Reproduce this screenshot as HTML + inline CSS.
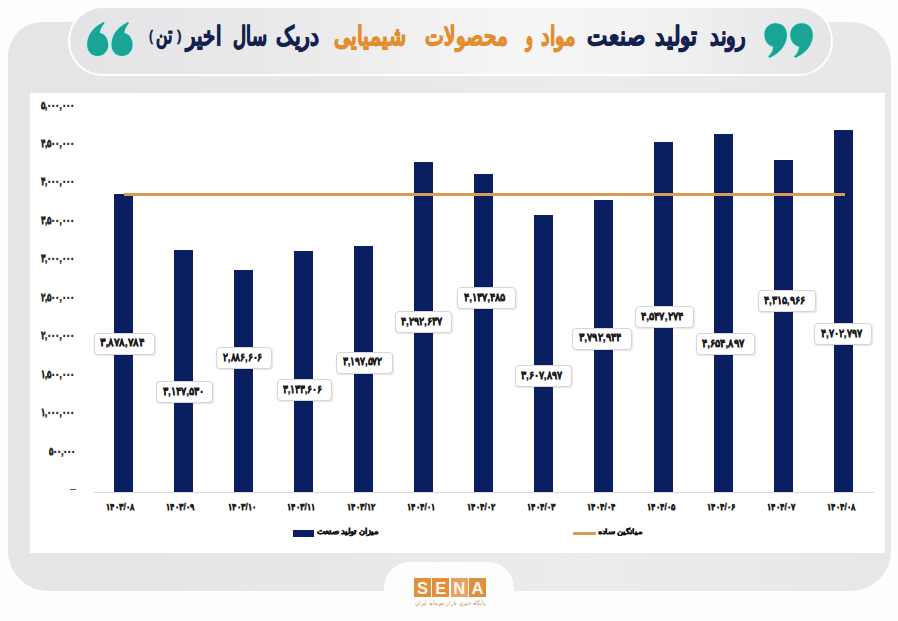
<!DOCTYPE html>
<html lang="fa">
<head>
<meta charset="utf-8">
<style>
*{margin:0;padding:0;box-sizing:border-box}
html,body{width:898px;height:621px;overflow:hidden;background:#fefefe;font-family:"Liberation Sans",sans-serif}
.abs{position:absolute}
.t{position:absolute;white-space:nowrap;transform-origin:0 0;line-height:normal}
#frame{left:8px;top:22px;width:883px;height:568.5px;background:linear-gradient(90deg,#e5e5e7 0%,#e7e7e9 35%,#ececed 65%,#e7e7e9 100%);border-radius:34px 40px 40px 40px}
#chart{left:30px;top:92.5px;width:855px;height:460.5px;background:#fff}
#pill{left:68px;top:6px;width:765px;height:69.5px;border-radius:34.75px;border:2px solid #fff;
 background:linear-gradient(90deg,#e4e4e6 0%,#eaeaeb 30%,#f6f6f7 60%,#f1f1f2 78%,#e5e5e7 100%)}
#notch{left:384px;top:562px;width:130px;height:70px;background:#fefefe;border-radius:26px 26px 0 0}
.bar{background:#0a1e62}
.sena{position:absolute;top:577.8px;width:17.2px;height:19.7px;color:#fff8ee;font-weight:bold;font-size:16.5px;line-height:20.5px;text-align:center}
.box{position:absolute;height:22px;background:#fff;border:1px solid #d6d6d6;border-radius:4px;box-shadow:0.5px 1px 1.5px rgba(0,0,0,.10)}
</style>
</head>
<body>
<div id="frame" class="abs"></div>
<div id="chart" class="abs"></div>
<div id="pill" class="abs"></div>
<div id="notch" class="abs"></div>
<svg class="abs" style="left:0;top:0" width="898" height="80">
 <g fill="#19a495" stroke="#bdf1ec" stroke-width="1.6" paint-order="stroke">
  <path transform="translate(87,22.2)" d="M15.8 0.2C8.5 3.5 1.2 10.5 0.2 20.5C-0.6 28.5 4 33.7 10.6 33.7C16.5 33.7 21.2 29 21.2 22.7C21.2 16.2 17.5 11.5 12.8 10.8C13.2 7.2 14.8 4 17.3 1.3C17.8 0.5 16.7 -0.3 15.8 0.2Z"/>
  <path transform="translate(111.4,22.3)" d="M15.8 0.2C8.5 3.5 1.2 10.5 0.2 20.5C-0.6 28.5 4 33.7 10.6 33.7C16.5 33.7 21.2 29 21.2 22.7C21.2 16.2 17.5 11.5 12.8 10.8C13.2 7.2 14.8 4 17.3 1.3C17.8 0.5 16.7 -0.3 15.8 0.2Z"/>
  <path transform="translate(787.06,57.7) rotate(180) scale(1.07,1.02)" d="M15.8 0.2C8.5 3.5 1.2 10.5 0.2 20.5C-0.6 28.5 4 33.7 10.6 33.7C16.5 33.7 21.2 29 21.2 22.7C21.2 16.2 17.5 11.5 12.8 10.8C13.2 7.2 14.8 4 17.3 1.3C17.8 0.5 16.7 -0.3 15.8 0.2Z"/>
  <path transform="translate(812.96,57.7) rotate(180) scale(1.07,1.02)" d="M15.8 0.2C8.5 3.5 1.2 10.5 0.2 20.5C-0.6 28.5 4 33.7 10.6 33.7C16.5 33.7 21.2 29 21.2 22.7C21.2 16.2 17.5 11.5 12.8 10.8C13.2 7.2 14.8 4 17.3 1.3C17.8 0.5 16.7 -0.3 15.8 0.2Z"/>
 </g>
</svg>
<div class="t" style="left:710.09px;top:20.50px;transform:scale(0.9087,1.2);font-weight:bold;font-size:22px;-webkit-text-stroke:0.8px currentColor;direction:rtl;color:#13214f">روند</div>
<div class="t" style="left:655.32px;top:20.50px;transform:scale(0.9800,1.2);font-weight:bold;font-size:22px;-webkit-text-stroke:0.8px currentColor;direction:rtl;color:#13214f">تولید</div>
<div class="t" style="left:587.01px;top:20.50px;transform:scale(0.9921,1.2);font-weight:bold;font-size:22px;-webkit-text-stroke:0.8px currentColor;direction:rtl;color:#13214f">صنعت</div>
<div class="t" style="left:540.60px;top:20.50px;transform:scale(0.8956,1.2);font-weight:bold;font-size:22px;-webkit-text-stroke:0.8px currentColor;direction:rtl;color:#e38d2f">مواد</div>
<div class="t" style="left:526.31px;top:20.50px;transform:scale(0.6533,1.2);font-weight:bold;font-size:22px;-webkit-text-stroke:0.8px currentColor;direction:rtl;color:#e38d2f">و</div>
<div class="t" style="left:424.68px;top:20.50px;transform:scale(0.9206,1.2);font-weight:bold;font-size:22px;-webkit-text-stroke:0.8px currentColor;direction:rtl;color:#e38d2f">محصولات</div>
<div class="t" style="left:333.76px;top:20.50px;transform:scale(0.9433,1.2);font-weight:bold;font-size:22px;-webkit-text-stroke:0.8px currentColor;direction:rtl;color:#e38d2f">شیمیایی</div>
<div class="t" style="left:276.47px;top:20.50px;transform:scale(0.9259,1.2);font-weight:bold;font-size:22px;-webkit-text-stroke:0.8px currentColor;direction:rtl;color:#13214f">دریک</div>
<div class="t" style="left:232.67px;top:20.50px;transform:scale(0.8283,1.2);font-weight:bold;font-size:22px;-webkit-text-stroke:0.8px currentColor;direction:rtl;color:#13214f">سال</div>
<div class="t" style="left:185.80px;top:20.50px;transform:scale(0.9000,1.2);font-weight:bold;font-size:22px;-webkit-text-stroke:0.8px currentColor;direction:rtl;color:#13214f">اخیر</div>
<div class="t" style="left:148.90px;top:28.16px;transform:scale(0.8000,0.9188);font-weight:bold;font-size:15px;-webkit-text-stroke:0.3px currentColor;color:#13214f">(</div>
<div class="t" style="left:177.40px;top:28.16px;transform:scale(0.9000,0.9188);font-weight:bold;font-size:15px;-webkit-text-stroke:0.3px currentColor;color:#13214f">)</div>
<div class="t" style="left:156.00px;top:21.05px;transform:scale(1.0526,1.5364);font-weight:bold;font-size:15px;-webkit-text-stroke:0.3px currentColor;direction:rtl;color:#13214f">تن</div>
<div class="abs" style="left:94px;top:492px;width:780px;height:1px;background:#d9d9d9"></div>
<div class="abs bar" style="left:113.95px;width:19.1px;top:193.72px;height:298.28px"></div>
<div class="abs bar" style="left:173.98px;width:19.1px;top:249.95px;height:242.05px"></div>
<div class="abs bar" style="left:234.01px;width:19.1px;top:270.02px;height:221.98px"></div>
<div class="abs bar" style="left:294.04px;width:19.1px;top:251.03px;height:240.97px"></div>
<div class="abs bar" style="left:354.07px;width:19.1px;top:246.11px;height:245.89px"></div>
<div class="abs bar" style="left:414.10px;width:19.1px;top:161.90px;height:330.10px"></div>
<div class="abs bar" style="left:474.13px;width:19.1px;top:173.83px;height:318.17px"></div>
<div class="abs bar" style="left:534.16px;width:19.1px;top:214.55px;height:277.45px"></div>
<div class="abs bar" style="left:594.19px;width:19.1px;top:200.32px;height:291.68px"></div>
<div class="abs bar" style="left:654.22px;width:19.1px;top:142.31px;height:349.69px"></div>
<div class="abs bar" style="left:714.25px;width:19.1px;top:134.04px;height:357.96px"></div>
<div class="abs bar" style="left:774.28px;width:19.1px;top:160.10px;height:331.90px"></div>
<div class="abs bar" style="left:834.31px;width:19.1px;top:130.35px;height:361.65px"></div>
<div class="abs" style="left:123.5px;top:193.18px;width:721.9px;height:2.6px;background:#d99a58"></div>
<div class="box" style="left:93.5px;top:332.5px;width:61.2px"></div>
<div class="box" style="left:156.3px;top:381.0px;width:56.4px"></div>
<div class="box" style="left:216.4px;top:347.2px;width:55.8px"></div>
<div class="box" style="left:276.5px;top:379.2px;width:55.4px"></div>
<div class="box" style="left:336.3px;top:351.5px;width:56.4px"></div>
<div class="box" style="left:394.6px;top:311.0px;width:57.6px"></div>
<div class="box" style="left:457.2px;top:286.7px;width:58.5px"></div>
<div class="box" style="left:514.5px;top:365.3px;width:57.5px"></div>
<div class="box" style="left:572.4px;top:327.5px;width:59.3px"></div>
<div class="box" style="left:634.7px;top:306.3px;width:59.1px"></div>
<div class="box" style="left:696.0px;top:332.6px;width:58.8px"></div>
<div class="box" style="left:758.0px;top:290.0px;width:57.5px"></div>
<div class="box" style="left:814.3px;top:322.8px;width:57.4px"></div>
<div class="t" style="left:99.85px;top:335.43px;transform:scale(0.9036,0.9556);font-weight:bold;font-size:12px;-webkit-text-stroke:0.35px currentColor;color:#1b1b1b">۳,۸۷۸,۷۸۴</div>
<div class="t" style="left:162.65px;top:383.93px;transform:scale(0.8472,0.9556);font-weight:bold;font-size:12px;-webkit-text-stroke:0.35px currentColor;color:#1b1b1b">۳,۱۴۷,۵۳۰</div>
<div class="t" style="left:222.75px;top:350.13px;transform:scale(0.8055,0.9556);font-weight:bold;font-size:12px;-webkit-text-stroke:0.35px currentColor;color:#1b1b1b">۲,۸۸۶,۶۰۶</div>
<div class="t" style="left:282.85px;top:382.13px;transform:scale(0.7982,0.9556);font-weight:bold;font-size:12px;-webkit-text-stroke:0.35px currentColor;color:#1b1b1b">۳,۱۳۳,۶۰۶</div>
<div class="t" style="left:342.65px;top:354.43px;transform:scale(0.8018,0.9556);font-weight:bold;font-size:12px;-webkit-text-stroke:0.35px currentColor;color:#1b1b1b">۳,۱۹۷,۵۷۲</div>
<div class="t" style="left:400.95px;top:313.93px;transform:scale(0.8382,0.9556);font-weight:bold;font-size:12px;-webkit-text-stroke:0.35px currentColor;color:#1b1b1b">۴,۲۹۲,۶۳۷</div>
<div class="t" style="left:463.55px;top:289.63px;transform:scale(0.8545,0.9556);font-weight:bold;font-size:12px;-webkit-text-stroke:0.35px currentColor;color:#1b1b1b">۴,۱۳۷,۴۸۵</div>
<div class="t" style="left:520.85px;top:368.23px;transform:scale(0.8364,0.9556);font-weight:bold;font-size:12px;-webkit-text-stroke:0.35px currentColor;color:#1b1b1b">۳,۶۰۷,۸۹۷</div>
<div class="t" style="left:578.75px;top:330.43px;transform:scale(0.8691,0.9556);font-weight:bold;font-size:12px;-webkit-text-stroke:0.35px currentColor;color:#1b1b1b">۳,۷۹۲,۹۴۴</div>
<div class="t" style="left:641.05px;top:309.23px;transform:scale(0.8655,0.9556);font-weight:bold;font-size:12px;-webkit-text-stroke:0.35px currentColor;color:#1b1b1b">۴,۵۴۷,۲۷۴</div>
<div class="t" style="left:702.35px;top:335.53px;transform:scale(0.8600,0.9556);font-weight:bold;font-size:12px;-webkit-text-stroke:0.35px currentColor;color:#1b1b1b">۴,۶۵۴,۸۹۷</div>
<div class="t" style="left:764.35px;top:292.93px;transform:scale(0.8364,0.9556);font-weight:bold;font-size:12px;-webkit-text-stroke:0.35px currentColor;color:#1b1b1b">۴,۳۱۵,۹۶۶</div>
<div class="t" style="left:820.65px;top:325.73px;transform:scale(0.8345,0.9556);font-weight:bold;font-size:12px;-webkit-text-stroke:0.35px currentColor;color:#1b1b1b">۴,۷۰۲,۷۹۷</div>
<div class="t" style="left:48.68px;top:444.60px;transform:scale(0.8087,1.0750);font-weight:bold;font-size:10px;-webkit-text-stroke:0.5px currentColor;color:#2a2a2a">۵۰۰,۰۰۰</div>
<div class="t" style="left:41.40px;top:406.15px;transform:scale(0.8087,1.0750);font-weight:bold;font-size:10px;-webkit-text-stroke:0.5px currentColor;color:#2a2a2a">۱,۰۰۰,۰۰۰</div>
<div class="t" style="left:41.40px;top:367.70px;transform:scale(0.8087,1.0750);font-weight:bold;font-size:10px;-webkit-text-stroke:0.5px currentColor;color:#2a2a2a">۱,۵۰۰,۰۰۰</div>
<div class="t" style="left:41.40px;top:329.25px;transform:scale(0.8087,1.0750);font-weight:bold;font-size:10px;-webkit-text-stroke:0.5px currentColor;color:#2a2a2a">۲,۰۰۰,۰۰۰</div>
<div class="t" style="left:41.40px;top:290.80px;transform:scale(0.8087,1.0750);font-weight:bold;font-size:10px;-webkit-text-stroke:0.5px currentColor;color:#2a2a2a">۲,۵۰۰,۰۰۰</div>
<div class="t" style="left:41.40px;top:252.35px;transform:scale(0.8087,1.0750);font-weight:bold;font-size:10px;-webkit-text-stroke:0.5px currentColor;color:#2a2a2a">۳,۰۰۰,۰۰۰</div>
<div class="t" style="left:41.40px;top:213.90px;transform:scale(0.8087,1.0750);font-weight:bold;font-size:10px;-webkit-text-stroke:0.5px currentColor;color:#2a2a2a">۳,۵۰۰,۰۰۰</div>
<div class="t" style="left:41.40px;top:175.45px;transform:scale(0.8087,1.0750);font-weight:bold;font-size:10px;-webkit-text-stroke:0.5px currentColor;color:#2a2a2a">۴,۰۰۰,۰۰۰</div>
<div class="t" style="left:41.40px;top:137.00px;transform:scale(0.8087,1.0750);font-weight:bold;font-size:10px;-webkit-text-stroke:0.5px currentColor;color:#2a2a2a">۴,۵۰۰,۰۰۰</div>
<div class="t" style="left:41.40px;top:98.55px;transform:scale(0.8087,1.0750);font-weight:bold;font-size:10px;-webkit-text-stroke:0.5px currentColor;color:#2a2a2a">۵,۰۰۰,۰۰۰</div>
<div class="abs" style="left:70.2px;top:488.6px;width:5.4px;height:1.6px;background:#555"></div>
<div class="t" style="left:106.42px;top:501.39px;transform:scale(0.7267,0.8091);font-weight:bold;font-size:11.5px;-webkit-text-stroke:0.55px currentColor;color:#222">۱۴۰۳/۰۸</div>
<div class="t" style="left:166.45px;top:501.39px;transform:scale(0.7267,0.8091);font-weight:bold;font-size:11.5px;-webkit-text-stroke:0.55px currentColor;color:#222">۱۴۰۳/۰۹</div>
<div class="t" style="left:227.57px;top:501.39px;transform:scale(0.7267,0.8091);font-weight:bold;font-size:11.5px;-webkit-text-stroke:0.55px currentColor;color:#222">۱۴۰۳/۱۰</div>
<div class="t" style="left:287.24px;top:501.39px;transform:scale(0.7267,0.8091);font-weight:bold;font-size:11.5px;-webkit-text-stroke:0.55px currentColor;color:#222">۱۴۰۳/۱۱</div>
<div class="t" style="left:346.54px;top:501.39px;transform:scale(0.7267,0.8091);font-weight:bold;font-size:11.5px;-webkit-text-stroke:0.55px currentColor;color:#222">۱۴۰۳/۱۲</div>
<div class="t" style="left:407.30px;top:501.39px;transform:scale(0.7267,0.8091);font-weight:bold;font-size:11.5px;-webkit-text-stroke:0.55px currentColor;color:#222">۱۴۰۴/۰۱</div>
<div class="t" style="left:466.60px;top:501.39px;transform:scale(0.7267,0.8091);font-weight:bold;font-size:11.5px;-webkit-text-stroke:0.55px currentColor;color:#222">۱۴۰۴/۰۲</div>
<div class="t" style="left:526.63px;top:501.39px;transform:scale(0.7267,0.8091);font-weight:bold;font-size:11.5px;-webkit-text-stroke:0.55px currentColor;color:#222">۱۴۰۴/۰۳</div>
<div class="t" style="left:587.03px;top:501.39px;transform:scale(0.7267,0.8091);font-weight:bold;font-size:11.5px;-webkit-text-stroke:0.55px currentColor;color:#222">۱۴۰۴/۰۴</div>
<div class="t" style="left:647.06px;top:501.39px;transform:scale(0.7267,0.8091);font-weight:bold;font-size:11.5px;-webkit-text-stroke:0.55px currentColor;color:#222">۱۴۰۴/۰۵</div>
<div class="t" style="left:707.09px;top:501.39px;transform:scale(0.7267,0.8091);font-weight:bold;font-size:11.5px;-webkit-text-stroke:0.55px currentColor;color:#222">۱۴۰۴/۰۶</div>
<div class="t" style="left:766.75px;top:501.39px;transform:scale(0.7267,0.8091);font-weight:bold;font-size:11.5px;-webkit-text-stroke:0.55px currentColor;color:#222">۱۴۰۴/۰۷</div>
<div class="t" style="left:826.78px;top:501.39px;transform:scale(0.7267,0.8091);font-weight:bold;font-size:11.5px;-webkit-text-stroke:0.55px currentColor;color:#222">۱۴۰۴/۰۸</div>
<div class="t" style="left:317.10px;top:526.96px;transform:scale(0.6736,0.6357);font-weight:bold;font-size:12px;direction:rtl;-webkit-text-stroke:0.8px currentColor;color:#141414">میزان تولید صنعت</div>
<div class="t" style="left:598.30px;top:528.14px;transform:scale(0.6718,0.5437);font-weight:bold;font-size:12px;direction:rtl;-webkit-text-stroke:0.8px currentColor;color:#141414">میانگین ساده</div>
<div class="abs" style="left:292.6px;top:529.6px;width:21.6px;height:7px;background:#0a1e62"></div>
<div class="abs" style="left:572.6px;top:532px;width:23px;height:2.6px;background:#d99a58"></div>
<div class="sena" style="left:413.9px;background:#e08f3c">S</div>
<div class="sena" style="left:432.2px;background:#e08f3c">E</div>
<div class="sena" style="left:450.6px;background:linear-gradient(135deg,#e69c55 0%,#eba96b 100%)">N</div>
<div class="sena" style="left:468.9px;background:#e08f3c">A</div>
<div class="t" style="left:415.5px;top:600px;width:73px;height:6px;font-size:6px;line-height:6px;color:#c98a4a;direction:rtl;text-align:center;transform-origin:50% 0;transform:scaleX(0.9)">پایگاه خبری بازار سرمایه ایران</div>
</body>
</html>
